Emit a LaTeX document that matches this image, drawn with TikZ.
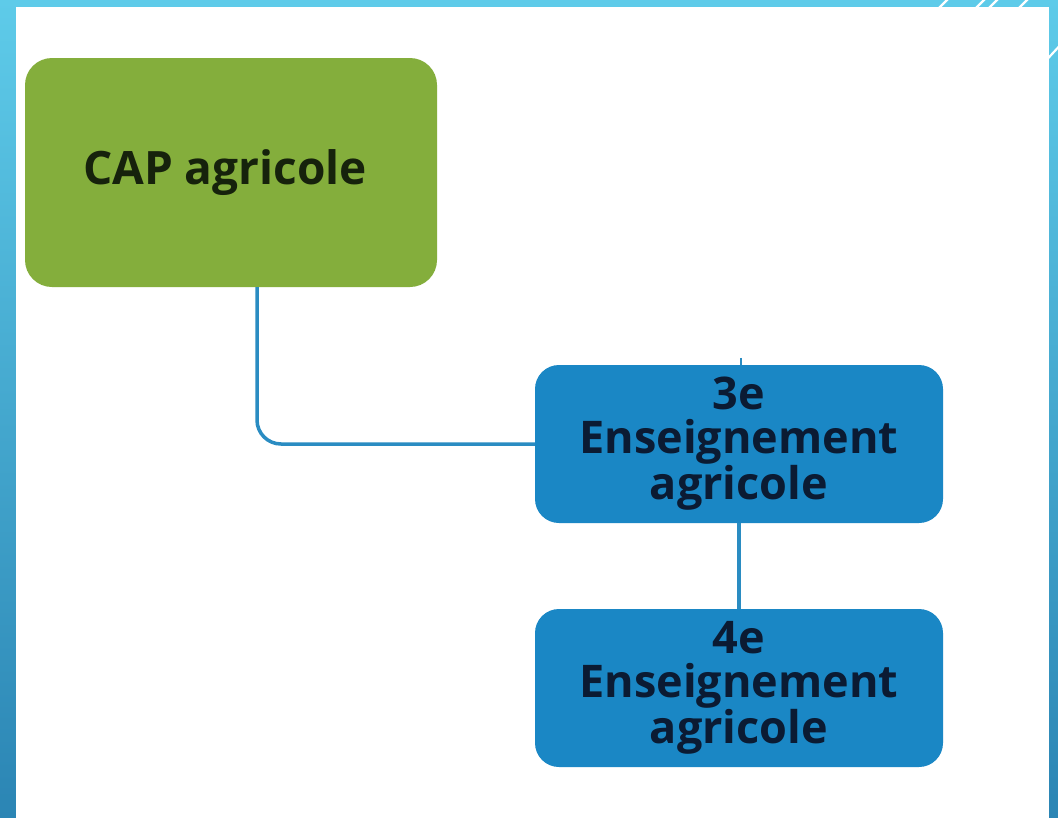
\documentclass[tikz,border=0pt]{standalone}
\usepackage{fontspec}
\setmainfont{Open Sans}
\usetikzlibrary{calc}
\definecolor{frametop}{HTML}{5ECBE9}
\definecolor{framebot}{HTML}{2B85B4}
\definecolor{capgreen}{HTML}{84AE3C}
\definecolor{capblue}{HTML}{1A87C5}
\definecolor{linkblue}{HTML}{2A8CC2}
\definecolor{greentext}{HTML}{16220C}
\definecolor{bluetext}{HTML}{0B1B33}
\tikzset{
  greenbox/.style={rectangle, rounded corners=27pt, fill=capgreen, draw=none,
    minimum width=412pt, minimum height=229pt, inner sep=0pt,
    text=greentext, font=\fontsize{46}{44}\selectfont\bfseries},
  bluebox/.style={rectangle, rounded corners=24pt, fill=capblue, draw=none,
    minimum width=408pt, minimum height=158pt, inner sep=0pt, align=center,
    text=bluetext, font=\fontsize{45}{44}\selectfont\bfseries},
  link/.style={draw=linkblue, line width=3.5pt},
  stripe/.style={draw=white, line width=2.2pt}
}
\begin{document}
\begin{tikzpicture}[x=1pt,y=-1pt]
% frame background
\shade[top color=frametop, bottom color=framebot] (0,0) rectangle (1058,817);
\path[use as bounding box] (0,0) rectangle (1058,817);
% decorative stripes
\draw[stripe] (925,22) -- (955,-8);
\draw[stripe] (962,22) -- (992,-8);
\draw[stripe] (975,22) -- (1005,-8);
\draw[stripe] (1005,22) -- (1035,-8);
\draw[stripe] (1040,67) -- (1065,40);
% white slide area
\fill[white] (16,7) rectangle (1049,822);
% nodes
\node[greenbox] (cap) at (231,172.5) {\hspace*{-12pt}\raisebox{7pt}{CAP agricole}};
\node[bluebox] (e3) at (739,444) {3e\\Enseignement\\agricole};
\node[bluebox] (e4) at (739,688) {4e\\Enseignement\\agricole};
\coordinate (stub) at ($(e3.north)+(2,-7)$);
% connectors
\draw[link, rounded corners=24pt] ([xshift=26pt]cap.south) |- (e3.west);
\draw[link] (e3.south) -- (e4.north);
\draw[link, line width=2.5pt] (stub) -- ([xshift=2pt]e3.north);
\end{tikzpicture}
\end{document}
